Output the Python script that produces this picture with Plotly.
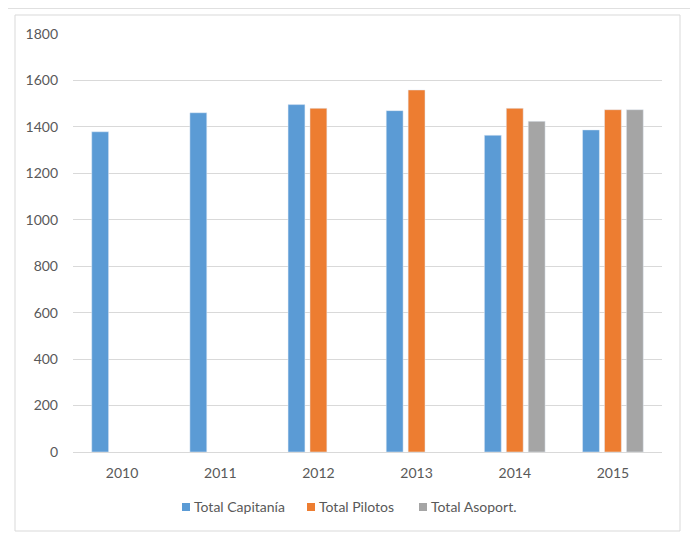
import plotly.graph_objects as go

years = ["2010", "2011", "2012", "2013", "2014", "2015"]
capitania = [1379, 1461, 1496, 1470, 1364, 1387]
pilotos = [None, None, 1480, 1559, 1480, 1474]
asoport = [None, None, None, None, 1424, 1474]
y_ticks = [0, 200, 400, 600, 800, 1000, 1200, 1400, 1600, 1800]
series_names = ["Total Capitanía", "Total Pilotos", "Total Asoport."]
series_colors = ["#5B9BD5", "#ED7D31", "#A5A5A5"]

OFF = 8  # page body margin
W, H = 698, 545
L, T = 73 - OFF, 34 - OFF
pw, ph = 589, 418
R = W - L - pw
B = H - T - ph

def px_x(x):
    return (x - OFF - L) / pw

def px_y(y):
    return (T + ph - (y - OFF)) / ph

font_fam = "Lato, 'Open Sans', sans-serif"

fig = go.Figure()
for name, vals, col in zip(series_names, [capitania, pilotos, asoport], series_colors):
    fig.add_bar(x=years, y=vals, name=name, marker_color=col)

shapes = [
    dict(type="rect", xref="paper", yref="paper",
         x0=px_x(15), x1=px_x(680), y0=px_y(531), y1=px_y(15),
         line=dict(color="#D9D9D9", width=1), fillcolor="rgba(0,0,0,0)",
         layer="below"),
    dict(type="line", xref="paper", yref="paper",
         x0=px_x(0), x1=px_x(720), y0=px_y(8.5), y1=px_y(8.5),
         line=dict(color="#E0E0E0", width=1)),
]
annotations = []
leg_x = [182, 307, 419]
for lx, name, col in zip(leg_x, series_names, series_colors):
    shapes.append(dict(type="rect", xref="paper", yref="paper",
                       x0=px_x(lx), x1=px_x(lx + 8), y0=px_y(511), y1=px_y(503),
                       line=dict(width=0), fillcolor=col))
    annotations.append(dict(xref="paper", yref="paper", x=px_x(lx + 10), y=px_y(506),
                            xanchor="left", yanchor="middle", showarrow=False,
                            text=name, font=dict(size=14, color="#595959")))

fig.update_layout(
    width=W, height=H,
    margin=dict(l=L, r=R, t=T, b=B),
    paper_bgcolor="white", plot_bgcolor="white",
    barmode="group", bargap=0.33, bargroupgap=0.23,
    font=dict(family=font_fam, size=14, color="#595959"),
    showlegend=False,
    xaxis=dict(type="category", showgrid=False, showline=False,
               ticks="", ticklabelstandoff=11,
               tickfont=dict(size=14, color="#595959")),
    yaxis=dict(range=[0, 1800], tickvals=y_ticks, showgrid=True,
               gridcolor="#D9D9D9", gridwidth=1, zeroline=True,
               zerolinecolor="#D9D9D9", zerolinewidth=1, showline=False,
               ticks="", ticklabelstandoff=14,
               tickfont=dict(size=14, color="#595959")),
    shapes=shapes,
    annotations=annotations,
)

fig.write_html("out.html")
